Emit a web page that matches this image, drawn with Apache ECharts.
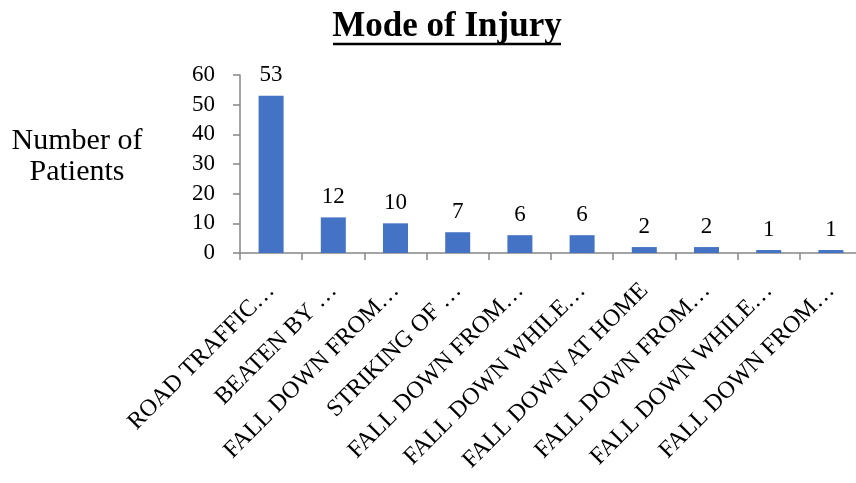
<!DOCTYPE html>
<html>
<head>
<meta charset="utf-8">
<script src="https://cdn.jsdelivr.net/npm/echarts@6/dist/echarts.min.js"></script>
<style>
html,body{margin:0;padding:0;background:#fff;}
#chart{width:856px;height:483px;}
</style>
</head>
<body>
<div id="chart"></div>
<script>
const titleText = 'Mode of Injury';
const yAxisTitle = 'Number of\nPatients';
const categories = [
  'ROAD TRAFFIC…',
  'BEATEN BY …',
  'FALL DOWN FROM…',
  'STRIKING OF …',
  'FALL DOWN FROM…',
  'FALL DOWN WHILE…',
  'FALL DOWN AT HOME',
  'FALL DOWN FROM…',
  'FALL DOWN WHILE…',
  'FALL DOWN FROM…'
];
const patients = [53, 12, 10, 7, 6, 6, 2, 2, 1, 1];
const yMin = 0, yMax = 60, yStep = 10;

const FONT = '"Liberation Serif", "Times New Roman", serif';
const chart = echarts.init(document.getElementById('chart'));
chart.setOption({
  animation: false,
  backgroundColor: '#ffffff',
  title: [{
    text: titleText,
    left: 447,
    textAlign: 'center',
    top: 9,
    padding: 0,
    textStyle: {fontFamily: FONT, fontSize: 35, fontWeight: 'bold', color: '#000'}
  }, {
    text: yAxisTitle,
    left: 77,
    textAlign: 'center',
    top: 126,
    padding: 0,
    textStyle: {fontFamily: FONT, fontSize: 30, fontWeight: 'normal', color: '#000', lineHeight: 31}
  }],
  graphic: [{
    type: 'line',
    shape: {x1: 333, y1: 44, x2: 561, y2: 44},
    style: {stroke: '#000', lineWidth: 2.5}
  }],
  grid: {left: 240, top: 75, width: 622, bottom: 230, containLabel: false, outerBoundsMode: 'none'},
  xAxis: {
    type: 'category',
    data: categories,
    axisLine: {lineStyle: {color: '#868686', width: 1.5}},
    axisTick: {show: true, length: 7, alignWithLabel: false, lineStyle: {color: '#868686', width: 1.5}},
    axisLabel: {interval: 0, rotate: 45, margin: 34, fontFamily: FONT, fontSize: 24, color: '#000'},
    splitLine: {show: false}
  },
  yAxis: {
    type: 'value',
    min: yMin, max: yMax, interval: yStep,
    axisLine: {show: true, lineStyle: {color: '#868686', width: 1.5}},
    axisTick: {show: true, length: 7, lineStyle: {color: '#868686', width: 1.5}},
    axisLabel: {margin: 25, fontFamily: FONT, fontSize: 23, color: '#000'},
    splitLine: {show: false}
  },
  series: [{
    type: 'bar',
    data: patients,
    barWidth: 25,
    itemStyle: {color: '#4472C4'},
    label: {show: true, position: 'top', distance: 9, fontFamily: FONT, fontSize: 23, color: '#000'}
  }]
});
</script>
</body>
</html>
